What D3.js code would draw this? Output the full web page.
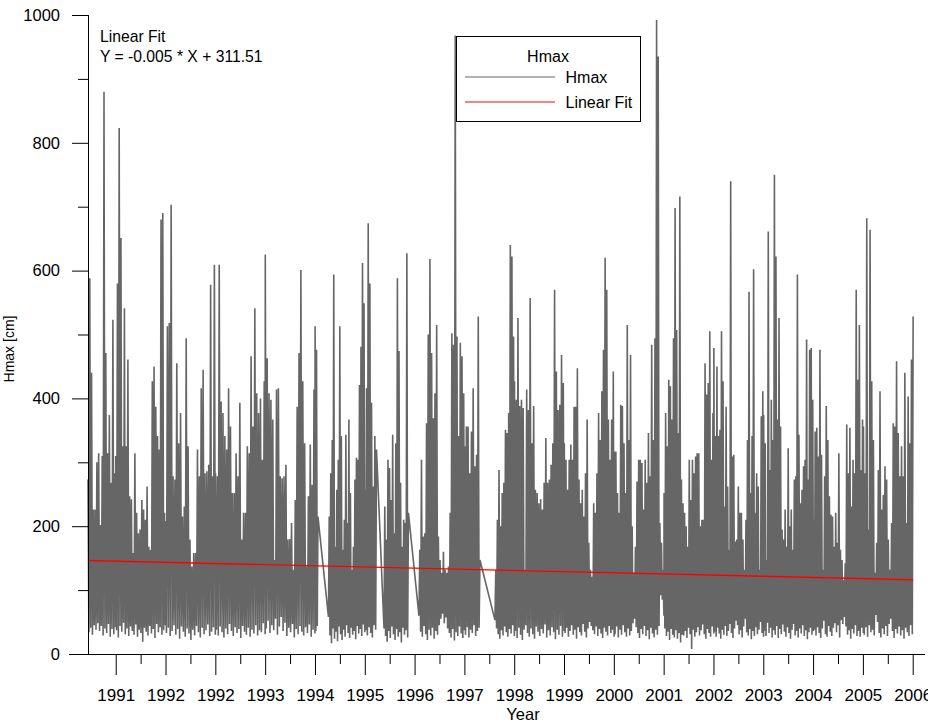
<!DOCTYPE html>
<html><head><meta charset="utf-8">
<script src="https://cdn.jsdelivr.net/npm/d3@7"></script>
<style>
html,body{margin:0;padding:0;background:#fff;overflow:hidden}
svg{display:block}
text{font-family:"Liberation Sans",Arial,sans-serif;fill:#000}
</style>
</head><body>
<svg id="chart" width="928" height="722"></svg>
<script>
// ---- data: Hmax series (cm), sampled evenly inside each period ----
const periodStarts = ["1990-06-12","1991-01-01","1992-01-01","1993-01-01","1994-01-01","1995-01-01","1995-04-09","1996-01-01","1996-05-20","1997-01-31","1998-01-01","1998-08-11","1999-01-01","2000-01-01","2001-01-01","2002-01-01","2003-01-01","2004-01-01","2005-01-01","2006-01-01"];
const periodEnds   = ["1990-12-31","1991-12-31","1992-12-31","1993-12-31","1994-12-31","1995-01-22","1995-12-31","1996-03-26","1996-11-15","1997-12-31","1998-04-23","1998-12-31","1999-12-31","2000-12-31","2001-12-31","2002-12-31","2003-12-31","2004-12-31","2005-12-31","2006-12-31"];

const hmax1990 = [273,34,588,41,440,30,226,45,226,38,300,48,314,36,202,44,310,29,880,40,471,33,314,47,374,27,268,39,523,31,283,42];
const hmax1991 = [310,37,580,26,823,44,651,35,325,49,541,31,325,40,461,28,247,43,242,36,158,30,314,46,221,27,189,38,195,33,241,19,226,41,210,35,262,29,168,44,163,32,427,39,450,25,387,47,341,34,320,42,680,30,690,37,221,45];
const hmax1992 = [208,33,513,41,518,28,703,36,278,45,273,30,455,39,330,24,377,43,215,35,231,27,494,40,325,32,179,22,137,38,158,29,158,44,320,34,278,26,416,41,445,31,283,37,286,46,296,28,578,35,278,42,609,30];
const hmax1993 = [283,38,278,29,609,43,395,34,377,26,341,40,320,31,416,47,356,36,252,28,252,42,314,33,278,39,393,25,179,44,221,35,221,30,325,41,314,27,466,38,356,32,541,45,408,29,377,37,400,34,304,48,427,31];
const hmax1994 = [625,40,463,52,408,33,398,45,367,37,147,55,414,30,416,43,278,58,275,36,278,49,296,28,179,41,180,34,205,47,132,26,241,39,387,31,471,44,601,35,427,29,330,42,137,33,247,46,328,27,265,38,414,32];
const hmax1995a = [513,36,476,44,215];
const hmax1995b = [58,215,29,283,17,335,40,594,24,168,35,257,20,304,43,513,31,341,22,163,38,210,27,343,45,205,33,367,25,252,41,132,30,168,36,273,23,307,44,304,32,421,39,481,28,612,46,549,34];
const hmax1996a = [257,37,416,29,674,42,580,33,393,26,262,45,341,38,320];
const hmax1996b = [40,231,28,179,19,304,36,291,25,241,43,343,31,189,22,330,39,588,27,474,34,268,18,168,41,210,30,205,37,627,26,221];
const hmax1997 = [60,163,35,304,27,184,44,189,31,361,22,500,38,618,29,471,41,369,24,408,36,515,30,184,45,147,55,127,63,160,48,132,57,127,40,137,33,221,26,502,39,484,21,968,34,497,28,341,43,487,32,466,25,408,37];
const hmax1998a = [325,30,356,42,356,26,283,38,348,33,416,45,294,28,312,36,528,41,147];
const hmax1998b = [53,132,40,210,31,288,24,200,37,252,29,268,43,351,34,346,27,377,39,640,32,622,45,497,28];
const hmax1999 = [427,36,398,25,526,41,388,30,398,22,385,38,132,45,414,33,382,27,557,40,330,31,388,24,257,43,252,35,236,28,242,39,226,32,268,46,338,26,268,37,273,29,296,42,330,34,570,23,442,38,382,30,390,44,468,27,424,36];
const hmax2000 = [330,33,304,41,257,27,304,36,328,45,304,30,387,38,387,24,447,42,273,34,236,29,257,47,215,35,283,26,367,40,174,50,132,44,121,37,236,31,221,43,283,28,377,39,335,32,411,25,476,41,620,35,570,29,367,44,304,33,367,38,442,27];
const hmax2001 = [317,31,317,43,252,26,221,38,390,30,388,45,330,34,252,27,515,40,335,29,468,36,200,48,127,55,168,42,270,33,304,25,304,39,299,31,226,44,304,28,268,37,346,23,278,41,484,32,335,26,494,38,992,30,935,44,205,92,174,85,132,60];
const hmax2002 = [252,40,377,28,325,35,429,22,419,39,367,30,494,26,698,37,507,24,346,33,716,18,273,30,236,29,221,36,200,25,168,41,304,31,241,8,304,38,283,27,309,34,314,42,314,29,200,37,210,46,210,31,455,24,406,39,424,33,505,27,304,43,377,32];
const hmax2003 = [479,35,341,27,450,41,341,32,351,24,505,38,427,30,231,44,387,28,262,36,163,47,740,33,309,25,312,40,176,52,179,45,262,31,221,37,221,26,179,43,132,55,210,34,335,29,567,39,252,23,341,36,602,28,221,42,283,31,262,38,132,50,372,33,411,27];
const hmax2004 = [374,36,330,28,147,49,661,33,288,41,398,26,335,37,750,30,622,44,367,25,526,39,356,31,195,46,179,35,226,27,168,42,322,33,200,24,226,38,163,47,273,29,278,36,594,26,343,40,236,32,257,45,294,28,304,37,492,23,273,34,476,41,479,30,398,36];
const hmax2005 = [210,38,348,29,354,42,309,33,476,25,312,40,132,52,278,31,388,27,335,44,247,35,218,28,215,41,168,48,221,34,174,45,314,26,163,53,147,47,116,58,142,43,359,30,283,37,354,24,231,39,304,32,283,45,570,28,429,36,515,27,288,41,367,33];
const hmax2006 = [356,30,283,42,682,27,195,45,664,34,427,38,335,29,127,61,174,50,288,33,411,26,226,40,249,31,294,44,273,28,179,47,132,55,205,36,361,25,356,39,458,32,346,43,278,29,325,37,278,24,440,41,205,34,403,28,330,45,461,31,528];

const periodValues = [hmax1990,hmax1991,hmax1992,hmax1993,hmax1994,hmax1995a,hmax1995b,hmax1996a,hmax1996b,hmax1997,hmax1998a,hmax1998b,hmax1999,hmax2000,hmax2001,hmax2002,hmax2003,hmax2004,hmax2005,hmax2006];

// axis ticks (one every 365 days from 1991-01-01, labelled with the year)
const xTickDates = ["1991-01-01","1992-01-01","1992-12-31","1993-12-31","1994-12-31","1995-12-31","1996-12-30","1997-12-30","1998-12-30","1999-12-30","2000-12-29","2001-12-29","2002-12-29","2003-12-29","2004-12-28","2005-12-28","2006-12-28"];
const xDomain = ["1990-06-12","2007-03-28"];
const yTicks = [0,200,400,600,800,1000];
const yMinorTicks = [100,300,500,700,900];

// linear fit as printed: Y = -0.005 * X + 311.51 (X = day serial number)
const fitSlope = -0.005;
const fitIntercept = 311.51;
const fitLabel = ["Linear Fit", "Y = -0.005 * X + 311.51"];
const legendTitle = "Hmax";
const legendItems = ["Hmax", "Linear Fit"];

// ---- drawing ----
const parse = d3.utcParse("%Y-%m-%d");
const svg = d3.select("#chart");
const FONT = '"Liberation Sans", Arial, sans-serif';

const x = d3.scaleUtc().domain(xDomain.map(parse)).range([88, 925]);
const y = d3.scaleLinear().domain([0, 1000]).range([654, 15]);

const points = [];
periodValues.forEach((vals, p) => {
  const t0 = parse(periodStarts[p]).getTime();
  const t1 = parse(periodEnds[p]).getTime();
  const n = vals.length;
  vals.forEach((v, i) => {
    points.push({t: new Date(t0 + (t1 - t0) * (n > 1 ? i / (n - 1) : 0)), v});
  });
});

const line = d3.line().x(d => x(d.t)).y(d => y(d.v));
svg.append("path").datum(points)
  .attr("d", line)
  .attr("fill", "none")
  .attr("stroke", "#666666")
  .attr("stroke-width", 1.6)
  .attr("stroke-linejoin", "bevel");

// fit line across the data range
const serial = d => (d.getTime() - Date.UTC(1899, 11, 30)) / 864e5;
const fitPts = [points[0].t, points[points.length - 1].t].map(t => ({t, v: fitSlope * serial(t) + fitIntercept}));
svg.append("path").datum(fitPts)
  .attr("d", line)
  .attr("fill", "none")
  .attr("stroke", "#ff0000")
  .attr("stroke-width", 1.4);

// axes
const tickDates = xTickDates.map(parse);
const minorDates = d3.pairs(tickDates).map(([a, b]) => new Date((a.getTime() + b.getTime()) / 2));

const gx = svg.append("g").attr("transform", `translate(0,${y(0)})`)
  .call(d3.axisBottom(x).tickValues(tickDates).tickSize(21).tickPadding(14).tickFormat(d3.utcFormat("%Y")))
  .call(g => g.select(".domain").remove());
gx.attr("font-size", 17).attr("font-family", FONT);

svg.append("g").attr("transform", `translate(0,${y(0)})`)
  .call(d3.axisBottom(x).tickValues(minorDates).tickSize(10).tickFormat(""))
  .call(g => g.select(".domain").remove());

const gy = svg.append("g").attr("transform", `translate(${x.range()[0]},0)`)
  .call(d3.axisLeft(y).tickValues(yTicks).tickSize(16).tickPadding(12).tickFormat(d3.format("d")))
  .call(g => g.select(".domain").remove());
gy.attr("font-size", 16.5).attr("font-family", FONT);

svg.append("g").attr("transform", `translate(${x.range()[0]},0)`)
  .call(d3.axisLeft(y).tickValues(yMinorTicks).tickSize(10).tickFormat(""))
  .call(g => g.select(".domain").remove());

// axis lines
svg.append("line").attr("x1", 69).attr("x2", x.range()[1]).attr("y1", y(0) + 0.5).attr("y2", y(0) + 0.5)
  .attr("stroke", "#000").attr("stroke-width", 1);
svg.append("line").attr("x1", x.range()[0] + 0.5).attr("x2", x.range()[0] + 0.5).attr("y1", y(1000)).attr("y2", y(0) + 0.5)
  .attr("stroke", "#000").attr("stroke-width", 1);

// axis titles
svg.append("text").attr("x", 523).attr("y", 720).attr("text-anchor", "middle")
  .attr("font-size", 16.5).text("Year");
svg.append("text").attr("transform", "translate(14,349) rotate(-90)").attr("text-anchor", "middle")
  .attr("font-size", 14).text("Hmax [cm]");

// fit annotation
svg.append("text").attr("x", 100).attr("y", 42).attr("font-size", 15.7).text(fitLabel[0]);
svg.append("text").attr("x", 100).attr("y", 62).attr("font-size", 15.7).text(fitLabel[1]);

// legend
const lg = svg.append("g");
lg.append("rect").attr("x", 456.5).attr("y", 36.5).attr("width", 184).attr("height", 85)
  .attr("fill", "#fff").attr("stroke", "#000").attr("stroke-width", 1);
lg.append("text").attr("x", 548).attr("y", 62).attr("text-anchor", "middle").attr("font-size", 16).text(legendTitle);
const legendColors = ["#666666", "#ff0000"];
legendItems.forEach((name, i) => {
  const yy = 77 + i * 25;
  lg.append("line").attr("x1", 465).attr("x2", 555).attr("y1", yy).attr("y2", yy)
    .attr("stroke", legendColors[i]).attr("stroke-width", 1);
  lg.append("text").attr("x", 565.5).attr("y", yy + 5.5).attr("font-size", 16).text(name);
});
</script>
</body></html>
